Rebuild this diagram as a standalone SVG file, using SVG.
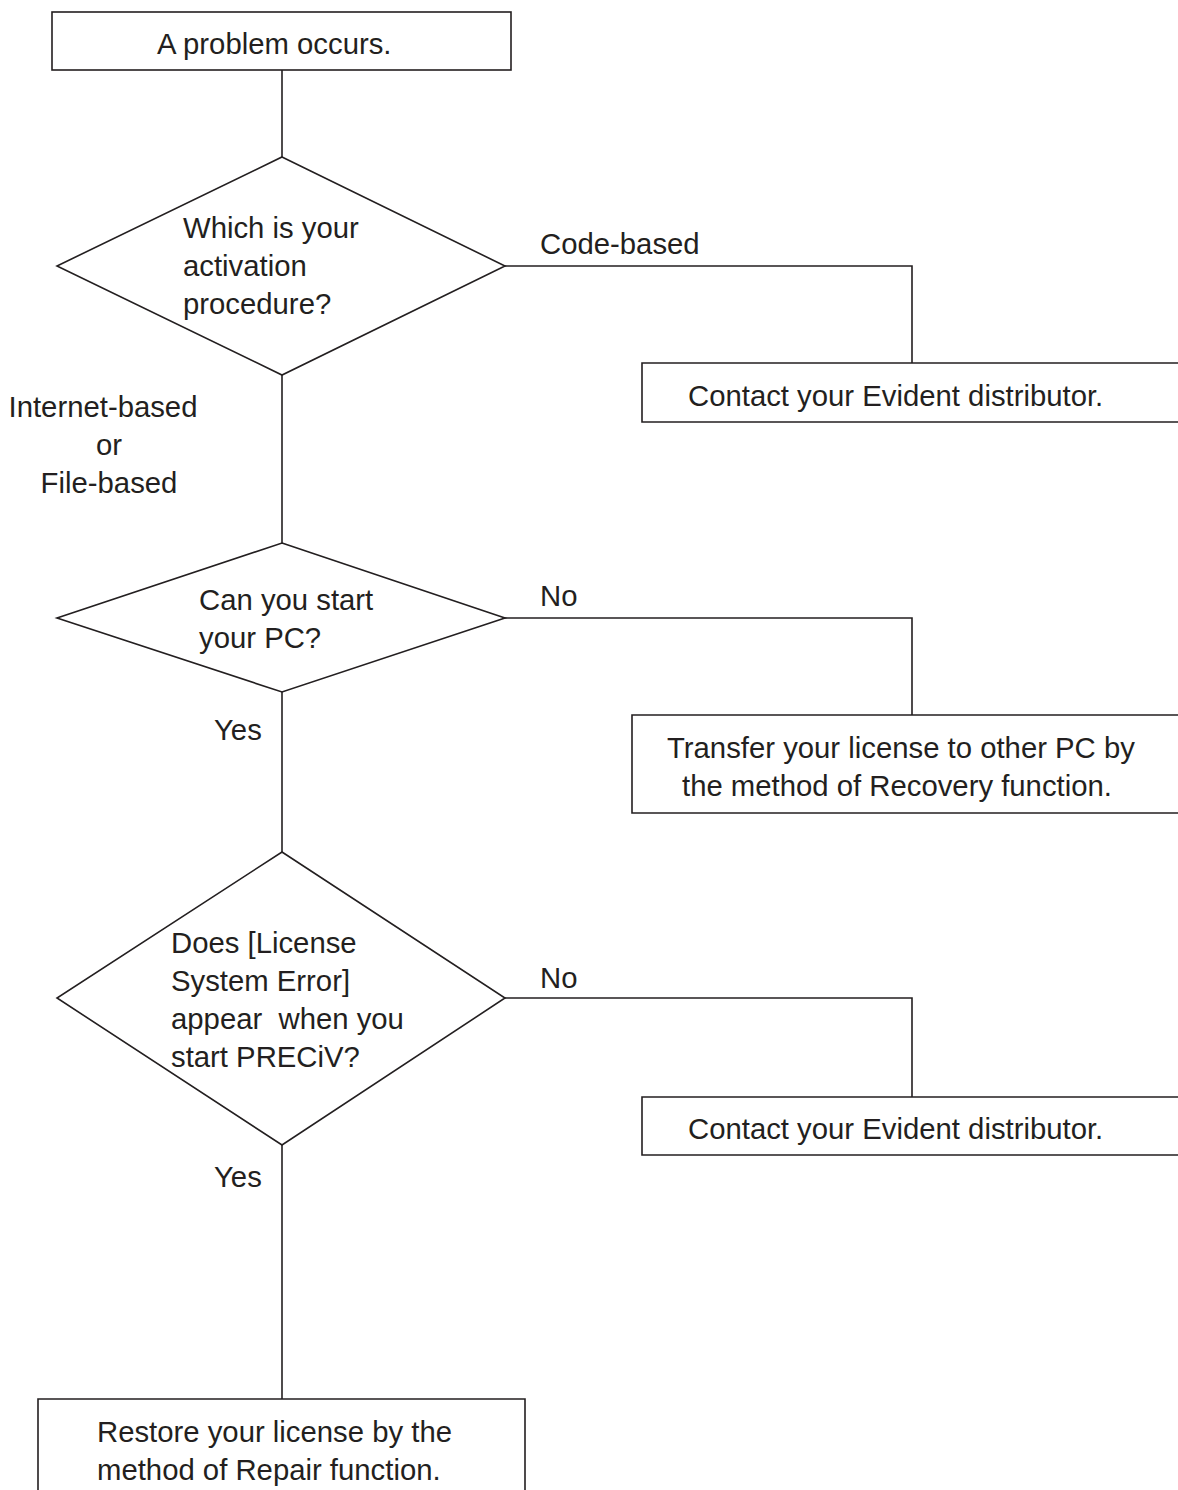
<svg xmlns="http://www.w3.org/2000/svg" width="1178" height="1490" viewBox="0 0 1178 1490">
<style>
.s{fill:#fff;stroke:#231f20;stroke-width:1.6}
.c{fill:none;stroke:#231f20;stroke-width:1.6}
text{font-family:"Liberation Sans",Arial,sans-serif;font-size:29.3px;fill:#231f20}
.m{text-anchor:middle}
</style>
<rect width="1178" height="1490" fill="#fff"/>
<g id="connectors">
<path class="c" d="M282 70V157"/>
<path class="c" d="M505 266H912V363"/>
<path class="c" d="M282 375V543"/>
<path class="c" d="M505 618H912V715"/>
<path class="c" d="M282 692V852"/>
<path class="c" d="M505 998H912V1097"/>
<path class="c" d="M282 1145V1399"/>
<text x="540" y="254">Code-based</text>
<text class="m" x="103" y="417">Internet-based</text>
<text class="m" x="109" y="455">or</text>
<text class="m" x="109" y="493">File-based</text>
<text x="540" y="606">No</text>
<text x="214" y="740">Yes</text>
<text x="540" y="988">No</text>
<text x="214" y="1187">Yes</text>
</g>
<g id="start">
<rect class="s" x="52" y="12" width="459" height="58"/>
<text x="157" y="54">A problem occurs.</text>
</g>
<g id="q1">
<polygon class="s" points="282,157 505,266 282,375 57,266"/>
<text x="183" y="238">Which is your</text>
<text x="183" y="276">activation</text>
<text x="183" y="314">procedure?</text>
</g>
<g id="contact1">
<path class="s" d="M1180 363H642V422H1180"/>
<text x="688" y="406">Contact your Evident distributor.</text>
</g>
<g id="q2">
<polygon class="s" points="282,543 505,618 282,692 57,618"/>
<text x="199" y="610">Can you start</text>
<text x="199" y="648">your PC?</text>
</g>
<g id="transfer">
<path class="s" d="M1180 715H632V813H1180"/>
<text x="667" y="758">Transfer your license to other PC by</text>
<text x="682" y="796">the method of Recovery function.</text>
</g>
<g id="q3">
<polygon class="s" points="282,852 505,998 282,1145 57,998"/>
<text x="171" y="953">Does [License</text>
<text x="171" y="991">System Error]</text>
<text x="171" y="1029" xml:space="preserve">appear  when you</text>
<text x="171" y="1067">start PRECiV?</text>
</g>
<g id="contact2">
<path class="s" d="M1180 1097H642V1155H1180"/>
<text x="688" y="1139">Contact your Evident distributor.</text>
</g>
<g id="restore">
<path class="s" d="M38 1495V1399H525V1495"/>
<text x="97" y="1442">Restore your license by the</text>
<text x="97" y="1480">method of Repair function.</text>
</g>
</svg>
